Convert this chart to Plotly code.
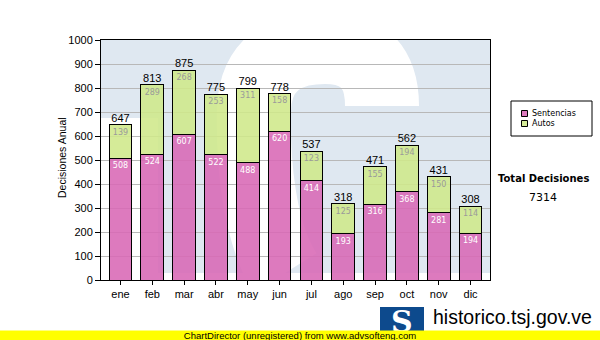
import plotly.graph_objects as go

# Monthly decisions, split by type
meses = ["ene", "feb", "mar", "abr", "may", "jun", "jul", "ago", "sep", "oct", "nov", "dic"]
sentencias = [508, 524, 607, 522, 488, 620, 414, 193, 316, 368, 281, 194]
autos = [139, 289, 268, 253, 311, 158, 123, 125, 155, 194, 150, 114]
totales = [s + a for s, a in zip(sentencias, autos)]
total_general = sum(totales)

W, H = 600, 340
L, R, T, B = 101, 490, 40, 280  # plot area in pixels


def px(x):
    return (x - L) / (R - L)


def py(y):
    return (B - y) / (B - T)


PINK = "rgba(216,104,181,0.88)"
GREEN = "rgba(207,232,138,0.88)"
ARIAL = "Liberation Sans, Arial, sans-serif"
SANS = "DejaVu Sans, Verdana, sans-serif"

fig = go.Figure()
fig.add_trace(go.Bar(
    x=meses, y=sentencias, name="Sentencias",
    marker=dict(color=PINK, line=dict(color="black", width=1)),
    text=sentencias, textposition="inside", insidetextanchor="end",
    textangle=0, textfont=dict(family=SANS, size=8, color="white"),
    hoverinfo="skip",
))
fig.add_trace(go.Bar(
    x=meses, y=autos, name="Autos",
    marker=dict(color=GREEN, line=dict(color="black", width=1)),
    text=autos, textposition="inside", insidetextanchor="end",
    textangle=0, textfont=dict(family=SANS, size=8, color="#9a9a9a"),
    hoverinfo="skip",
))
fig.add_trace(go.Scatter(
    x=meses, y=totales, mode="text", text=totales,
    textposition="top center",
    textfont=dict(family=ARIAL, size=11, color="black"),
    cliponaxis=False, hoverinfo="skip",
))

shapes = []
# faded logo watermark behind the bars
shapes.append(dict(type="rect", xref="paper", yref="paper",
                   x0=px(158), x1=px(490), y0=py(273), y1=py(40),
                   fillcolor="#dfe8f1", line=dict(width=0), layer="below"))
shapes.append(dict(type="rect", xref="paper", yref="paper",
                   x0=px(101), x1=px(158), y0=py(118), y1=py(40),
                   fillcolor="#dfe8f1", line=dict(width=0), layer="below"))
s_pts = [(382, 106), (382, 70), (365, 47), (325, 47), (285, 47), (255, 65),
         (254, 110), (253, 160), (258, 230), (285, 273)]
p = "M {:.4f},{:.4f}".format(px(s_pts[0][0]), py(s_pts[0][1]))
for i in range(1, len(s_pts), 3):
    seg = s_pts[i:i + 3]
    p += " C " + " ".join("{:.4f},{:.4f}".format(px(a), py(b)) for a, b in seg)
shapes.append(dict(type="path", xref="paper", yref="paper", path=p,
                   line=dict(color="white", width=74), layer="below"))

# legend box
shapes.append(dict(type="rect", xref="paper", yref="paper",
                   x0=px(511), x1=px(592), y0=py(136), y1=py(101),
                   fillcolor="white", line=dict(color="black", width=1)))
for yy, col in [(113.5, PINK), (123.5, GREEN)]:
    shapes.append(dict(type="rect", xref="paper", yref="paper",
                       x0=px(521.5), x1=px(527.5), y0=py(yy + 3), y1=py(yy - 3),
                       fillcolor=col, line=dict(color="black", width=1)))

# site logo
shapes.append(dict(type="rect", xref="paper", yref="paper",
                   x0=px(380), x1=px(424), y0=py(340), y1=py(307),
                   fillcolor="#0d4a8d", line=dict(width=0)))

annotations = [
    dict(text="Decisiones Anual", xref="paper", yref="paper", x=px(62), y=py(158),
         textangle=-90, showarrow=False, font=dict(family=ARIAL, size=10.5, color="black"),
         xanchor="center", yanchor="middle"),
    dict(text="Sentencias", xref="paper", yref="paper", x=px(530), y=py(113.5),
         showarrow=False, xanchor="left", yanchor="middle",
         font=dict(family=SANS, size=8, color="black")),
    dict(text="Autos", xref="paper", yref="paper", x=px(530), y=py(123.5),
         showarrow=False, xanchor="left", yanchor="middle",
         font=dict(family=SANS, size=8, color="black")),
    dict(text="<b>Total Decisiones</b>", xref="paper", yref="paper", x=px(543), y=py(178),
         showarrow=False, xanchor="center", yanchor="middle",
         font=dict(family=SANS, size=10, color="black")),
    dict(text=str(total_general), xref="paper", yref="paper", x=px(543), y=py(197),
         showarrow=False, xanchor="center", yanchor="middle",
         font=dict(family=SANS, size=11, color="black")),
    dict(text="<b>S</b>", xref="paper", yref="paper", x=px(402), y=py(321),
         showarrow=False, xanchor="center", yanchor="middle",
         font=dict(family="DejaVu Serif", size=30, color="white")),
    dict(text="historico.tsj.gov.ve", xref="paper", yref="paper", x=px(431), y=py(317),
         showarrow=False, xanchor="left", yanchor="middle",
         font=dict(family=ARIAL, size=19.5, color="black")),
    dict(text="Tribunal Supremo de Justicia", xref="paper", yref="paper", x=px(432), y=py(336),
         showarrow=False, xanchor="left", yanchor="middle",
         font=dict(family=ARIAL, size=11, color="black")),
    dict(text="ChartDirector (unregistered) from www.advsofteng.com", xref="paper", yref="paper",
         x=px(300), y=py(335.5), showarrow=False, xanchor="center", yanchor="middle",
         width=600, height=9, borderpad=0, bgcolor="#ffff00",
         font=dict(family=ARIAL, size=9.5, color="black")),
]

fig.update_layout(
    width=W, height=H,
    margin=dict(l=L, r=W - R, t=T, b=H - B, pad=0),
    paper_bgcolor="white", plot_bgcolor="white",
    barmode="stack", bargap=0.29, showlegend=False,
    shapes=shapes, annotations=annotations,
    uniformtext=dict(mode=False),
)
fig.update_xaxes(
    type="category", showline=True, linecolor="black", linewidth=1, mirror=True,
    ticks="outside", ticklen=4, tickcolor="black", showgrid=False,
    tickfont=dict(family=ARIAL, size=11, color="black"),
)
fig.update_yaxes(
    range=[0, 1000], dtick=100, showgrid=True, gridcolor="#b8b8b8", gridwidth=1,
    zeroline=False, showline=True, linecolor="black", linewidth=1, mirror=True,
    ticks="outside", ticklen=5, tickcolor="black",
    tickfont=dict(family=ARIAL, size=11, color="black"),
)

fig.write_html("out.html")
